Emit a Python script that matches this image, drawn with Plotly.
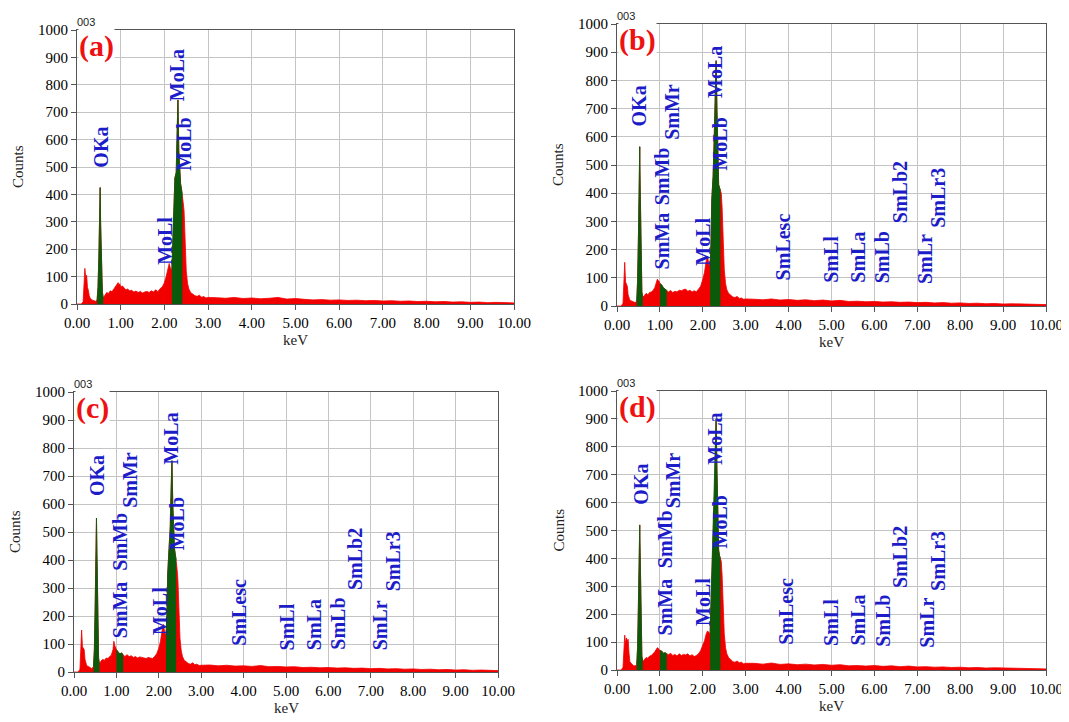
import plotly.graph_objects as go

# ---------------- data ----------------
kev = [0.00, 0.10, 0.14, 0.16, 0.18, 0.20, 0.22, 0.24, 0.26, 0.28, 0.30, 0.34, 0.38, 0.42,
       0.46, 0.48, 0.50, 0.52, 0.53, 0.54, 0.56, 0.58, 0.60, 0.64, 0.68, 0.72, 0.76, 0.80,
       0.84, 0.88, 0.92, 0.94, 0.96, 0.98, 1.00, 1.04, 1.08, 1.12, 1.16, 1.20, 1.25, 1.30,
       1.35, 1.40, 1.45, 1.50, 1.55, 1.60, 1.65, 1.70, 1.75, 1.80, 1.85, 1.90, 1.95, 2.00,
       2.04, 2.08, 2.11, 2.14, 2.17, 2.19, 2.21, 2.24, 2.27, 2.29, 2.31, 2.33, 2.35, 2.37,
       2.39, 2.41, 2.43, 2.45, 2.47, 2.50, 2.53, 2.56, 2.60, 2.65, 2.70, 2.75, 2.80, 2.85,
       2.90, 2.95, 3.00,
       3.2, 3.4, 3.6, 3.8, 4.0, 4.2, 4.4, 4.6, 4.8, 5.0, 5.2, 5.4, 5.6, 5.8, 6.0, 6.2, 6.4,
       6.6, 6.8, 7.0, 7.2, 7.4, 7.6, 7.8, 8.0, 8.2, 8.4, 8.6, 8.8, 9.0, 9.2, 9.4, 9.6, 9.8, 10.0]

counts_a = [0, 0, 8, 70, 130, 95, 105, 60, 50, 30, 22, 15, 12, 10,
            14, 60, 170, 330, 425, 300, 120, 45, 22, 35, 42, 38, 48, 45,
            55, 60, 72, 78, 70, 74, 62, 66, 58, 52, 55, 48, 50, 44,
            47, 42, 46, 40, 44, 46, 42, 48, 44, 52, 45, 56, 62, 78,
            100, 135, 148, 130, 125, 200, 320, 460, 480, 620, 745, 560, 470, 440,
            420, 400, 370, 340, 230, 120, 75, 55, 42, 35, 30, 28, 32, 25,
            27, 22, 24,
            23, 21, 24, 20, 22, 19, 21, 24, 18, 20, 17, 15, 16, 14, 15, 13, 14,
            12, 13, 11, 12, 10, 11, 9, 10, 8, 9, 7, 8, 6, 7, 5, 6, 5, 4]

counts_b = [0, 0, 10, 80, 155, 85, 75, 70, 40, 25, 20, 18, 14, 12,
            18, 90, 250, 450, 565, 430, 140, 50, 30, 38, 45, 40, 48, 50,
            55, 65, 85, 95, 90, 88, 80, 75, 65, 60, 55, 50, 55, 48,
            52, 50, 56, 54, 58, 60, 52, 56, 50, 54, 50, 60, 70, 95,
            120, 160, 175, 150, 140, 220, 380, 460, 600, 760, 870, 700, 480, 430,
            420, 410, 400, 350, 240, 130, 80, 58, 45, 38, 32, 30, 34, 27,
            28, 24, 25,
            24, 22, 25, 21, 23, 20, 22, 19, 21, 18, 20, 16, 17, 15, 16, 14, 15,
            13, 14, 12, 13, 11, 12, 10, 11, 9, 10, 8, 9, 7, 8, 7, 6, 6, 5]

counts_c = [0, 0, 10, 90, 150, 90, 85, 80, 45, 30, 22, 20, 15, 12,
            20, 80, 240, 450, 550, 440, 150, 50, 28, 40, 45, 42, 50, 48,
            55, 60, 80, 110, 95, 85, 80, 70, 65, 68, 62, 55, 62, 55,
            58, 52, 55, 50, 54, 52, 50, 48, 52, 50, 48, 55, 65, 85,
            110, 150, 170, 140, 130, 200, 350, 440, 520, 650, 755, 600, 460, 440,
            420, 400, 370, 330, 230, 120, 75, 55, 42, 36, 30, 28, 33, 26,
            28, 23, 24,
            25, 22, 24, 21, 22, 20, 23, 19, 20, 18, 19, 16, 17, 15, 16, 14, 15,
            13, 14, 12, 13, 11, 12, 10, 11, 9, 10, 8, 9, 7, 8, 6, 7, 5, 5]

counts_d = [0, 0, 10, 70, 125, 95, 115, 105, 110, 60, 30, 22, 16, 14,
            20, 80, 230, 430, 520, 420, 150, 50, 30, 40, 45, 42, 50, 52,
            58, 65, 75, 80, 78, 72, 70, 68, 60, 62, 58, 55, 60, 52,
            56, 50, 58, 52, 56, 54, 58, 50, 55, 48, 52, 58, 70, 90,
            105, 130, 140, 135, 130, 230, 380, 480, 620, 780, 900, 720, 480, 430,
            410, 400, 390, 340, 240, 130, 80, 58, 45, 38, 30, 28, 32, 26,
            28, 22, 24,
            24, 21, 25, 20, 22, 19, 21, 18, 20, 17, 19, 15, 16, 14, 16, 13, 15,
            12, 14, 11, 12, 10, 11, 9, 10, 8, 9, 7, 8, 7, 6, 6, 5, 5, 4]

# peak windows (keV) shaded green
windows_a = [(0.46, 0.60), (2.17, 2.41)]
windows_bcd = [(0.46, 0.60), (1.00, 1.16), (2.17, 2.41)]

# peak labels: (text, keV, counts at bottom of rotated text)
labels_a = [("OKa", 0.53, 489), ("MoLl", 2.01, 135), ("MoLa", 2.29, 733), ("MoLb", 2.43, 478)]
labels_b = [("OKa", 0.51, 631), ("SmMa", 1.05, 121), ("SmMb", 1.05, 350), ("SmMr", 1.28, 582),
            ("MoLl", 2.00, 135), ("MoLa", 2.28, 730), ("MoLb", 2.40, 475), ("SmLesc", 3.87, 82),
            ("SmLl", 4.97, 74), ("SmLa", 5.62, 74), ("SmLb", 6.18, 74), ("SmLb2", 6.60, 287),
            ("SmLr", 7.18, 71), ("SmLr3", 7.48, 270)]
labels_c = [("OKa", 0.53, 621), ("SmMa", 1.08, 114), ("SmMb", 1.08, 354), ("SmMr", 1.32, 579),
            ("MoLl", 2.03, 125), ("MoLa", 2.30, 732), ("MoLb", 2.42, 428), ("SmLesc", 3.90, 86),
            ("SmLl", 5.02, 71), ("SmLa", 5.65, 71), ("SmLb", 6.24, 71), ("SmLb2", 6.63, 286),
            ("SmLr", 7.22, 71), ("SmLr3", 7.53, 282)]
labels_d = [("OKa", 0.54, 584), ("SmMa", 1.12, 115), ("SmMb", 1.12, 358), ("SmMr", 1.31, 573),
            ("MoLl", 2.00, 150), ("MoLa", 2.28, 728), ("MoLb", 2.40, 430), ("SmLesc", 3.92, 82),
            ("SmLl", 5.00, 79), ("SmLa", 5.62, 79), ("SmLb", 6.20, 76), ("SmLb2", 6.60, 287),
            ("SmLr", 7.22, 72), ("SmLr3", 7.48, 276)]

panel_names = ["(a)", "(b)", "(c)", "(d)"]
x_ticks = [0, 1, 2, 3, 4, 5, 6, 7, 8, 9, 10]
y_ticks = [0, 100, 200, 300, 400, 500, 600, 700, 800, 900, 1000]

# ---------------- layout geometry (pixels) ----------------
PAGE_W, PAGE_H = 1069, 722
OFF = 8                      # default page body margin
W, H = PAGE_W - OFF, PAGE_H - OFF
# (left, right, top, bottom) of plot areas in page pixels
boxes = [(77, 514, 30, 304), (617, 1046, 24, 306), (74, 498, 392, 672), (617, 1046, 391, 670)]


def px(xp):
    return (xp - OFF) / W


def py(yp):
    return 1 - (yp - OFF) / H


RED = "#f20000"
GREEN = "#0b5a0b"
BLUE = "#1c1cc8"
SERIF = "Liberation Serif, Times New Roman, serif"

series = [counts_a, counts_b, counts_c, counts_d]
windows = [windows_a, windows_bcd, windows_bcd, windows_bcd]
labels = [labels_a, labels_b, labels_c, labels_d]

for c in series:
    assert len(c) == len(kev), len(c)

fig = go.Figure()
annotations = []
for i in range(4):
    n = "" if i == 0 else str(i + 1)
    xa, ya = "x" + n, "y" + n
    l, r, t, b = boxes[i]
    xdom = [px(l), px(r)]
    ydom = [py(b), py(t)]

    fig.add_trace(go.Scatter(x=kev, y=series[i], mode="lines", fill="tozeroy",
                             line=dict(color=RED, width=0.8), fillcolor=RED,
                             xaxis=xa, yaxis=ya, showlegend=False, hoverinfo="skip"))
    for lo, hi in windows[i]:
        xs = [k for k in kev if lo <= k <= hi]
        ys = [v for k, v in zip(kev, series[i]) if lo <= k <= hi]
        fig.add_trace(go.Scatter(x=xs, y=ys, mode="lines", fill="tozeroy",
                                 line=dict(color=GREEN, width=0.8), fillcolor=GREEN,
                                 xaxis=xa, yaxis=ya, showlegend=False, hoverinfo="skip"))

    axcommon = dict(showgrid=True, gridcolor="#c4c4c4", gridwidth=1, zeroline=False,
                    showline=True, linecolor="#555555", linewidth=1, mirror=True,
                    ticks="outside", ticklen=5, tickcolor="#555555",
                    tickfont=dict(family=SERIF, size=15, color="#000000"), automargin=False)
    fig.layout["xaxis" + n] = dict(domain=xdom, range=[0, 10], tickvals=x_ticks,
                                   tickformat=".2f", anchor=ya, **axcommon)
    fig.layout["yaxis" + n] = dict(domain=ydom, range=[0, 1000], tickvals=y_ticks,
                                   anchor=xa, **axcommon)

    # peak labels
    for txt, kx, ky in labels[i]:
        annotations.append(dict(x=kx, y=ky, xref=xa, yref=ya, text="<b>%s</b>" % txt,
                                textangle=-90, showarrow=False, xanchor="center", yanchor="bottom",
                                font=dict(family=SERIF, size=20, color=BLUE)))
    # panel letter
    annotations.append(dict(x=px(l + 1), y=py(t - 2), xref="paper", yref="paper",
                            text="<b>%s</b>" % panel_names[i], showarrow=False,
                            xanchor="left", yanchor="top", bgcolor="white", borderpad=0,
                            font=dict(family=SERIF, size=30, color="#ee1111")))
    # "003" header
    annotations.append(dict(x=px(l - 1), y=py(t - 8), xref="paper", yref="paper",
                            text="003", showarrow=False, xanchor="left", yanchor="middle",
                            borderpad=0,
                            font=dict(family="Liberation Sans, Arial", size=11, color="#222222")))
    # axis titles
    annotations.append(dict(x=px(l - 59), y=py((t + b) / 2), xref="paper", yref="paper",
                            text="Counts", textangle=-90, showarrow=False,
                            xanchor="center", yanchor="middle",
                            font=dict(family=SERIF, size=15, color="#222222")))
    annotations.append(dict(x=px((l + r) / 2), y=py(b + 36), xref="paper", yref="paper",
                            text="keV", showarrow=False, xanchor="center", yanchor="middle",
                            font=dict(family=SERIF, size=15, color="#222222")))

fig.update_layout(width=W, height=H, autosize=False,
                  margin=dict(l=0, r=0, t=0, b=0),
                  paper_bgcolor="white", plot_bgcolor="white",
                  annotations=annotations)

fig.write_html("out.html")
